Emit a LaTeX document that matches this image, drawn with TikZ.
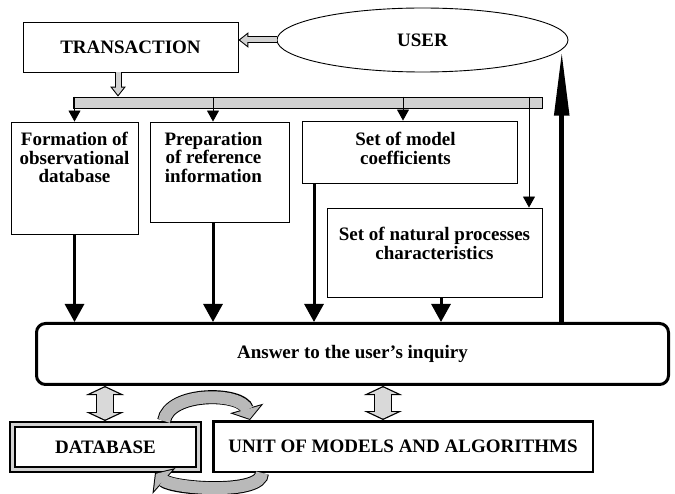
\documentclass[tikz,border=0pt]{standalone}
\usepackage{fontspec}
\setmainfont{Liberation Serif}
\usetikzlibrary{arrows.meta,positioning,shapes.geometric}

\begin{document}
\begin{tikzpicture}[x=1pt,y=1pt,font=\fontsize{19}{18.5}\selectfont\bfseries,
  box/.style={draw,line width=0.9pt,inner sep=0pt},
  lbl/.style={align=center,inner sep=0pt},
  feed/.style={line width=0.8pt,-{Triangle[length=11pt,width=12pt]}},
  main/.style={line width=3pt,-{Triangle[length=18pt,width=19pt]}},
  rise/.style={line width=5.5pt,-{Triangle[length=66pt,width=14pt]}},
  hollow/.style={line width=7pt,-{Triangle[length=10pt,width=15pt]},
    postaction={draw=gray!35,line width=5pt,shorten >=1.7pt,-{Triangle[length=7.3pt,width=11pt]}}},
  twoway/.style={line width=18pt,{Triangle[length=9pt,width=38pt]}-{Triangle[length=9pt,width=38pt]},
    postaction={draw=gray!30,line width=15.6pt,shorten >=1.4pt,shorten <=1.4pt,
      {Triangle[length=6.4pt,width=27pt]}-{Triangle[length=6.4pt,width=27pt]}}},
  turn/.style={line width=14pt,-{Triangle[length=12pt,width=34pt]},
    postaction={draw=gray!55,line width=12pt,shorten >=1.2pt,-{Triangle[length=9.8pt,width=27.7pt]}}}]
\useasboundingbox (0,0) rectangle (675,-494);

% top row
\node[box,minimum width=215,minimum height=50] (trans) at (130.5,-47) {TRANSACTION};
\node[box,ellipse,minimum width=291,minimum height=64] (user) at (422.5,-40) {USER};
\node[box,fill=gray!35,line width=0.8pt,minimum width=469,minimum height=11] (bar) at (307.5,-102.5) {};

% task boxes
\node[box,minimum width=127,minimum height=112] (form) at (74.5,-178) {};
\node[box,minimum width=139,minimum height=100] (prep) at (219.5,-172) {};
\node[box,minimum width=215,minimum height=62] (coef) at (409.5,-152) {};
\node[box,minimum width=215,minimum height=89] (nat) at (434.5,-252.5) {};
\node[lbl,below=10.5pt of form.north] (formtext) {Formation of\\observational\\database};
\node[lbl,below=10.5pt of prep.north,xshift=-6pt] (preptext) {Preparation\\of reference\\information};
\node[lbl,below=11.5pt of coef.north,xshift=-4pt] (coeftext) {Set of model\\coefficients};
\node[lbl,below=19.5pt of nat.north] (nattext) {Set of natural processes\\characteristics};

% answer and lower units
\node[draw,line width=3pt,rounded corners=9pt,minimum width=632,minimum height=61] (ans) at (352.5,-354) {Answer to the user's inquiry};
\node[draw,line width=1.6pt,double=gray!35,double distance=3.5pt,outer sep=3.35pt,
  minimum width=186.3,minimum height=45.3] (db) at (105.5,-447) {DATABASE};
\node[draw,line width=2.5pt,minimum width=379.5,minimum height=50.5] (unit) at (403,-446.5) {UNIT OF MODELS AND ALGORITHMS};

\draw[hollow] (user.west) -- (user.west -| trans.east);
\draw[hollow] (118,0 |- trans.south) -- (118,0 |- bar.north);
\draw[feed] (form.north |- bar.north) -- (form.north);
\draw[feed] (213,0 |- bar.north) -- (213,0 |- prep.north);
\draw[feed] (403,0 |- bar.north) -- (403,0 |- coef.north);
\draw[feed] (529,0 |- bar.north) -- (529,0 |- nat.north);
\draw[main] (form.south) -- (form.south |- ans.north);
\draw[main] (213,0 |- prep.south) -- (213,0 |- ans.north);
\draw[main] (314,0 |- coef.south) -- (314,0 |- ans.north);
\draw[main] (441,0 |- nat.south) -- (441,0 |- ans.north);
\draw[rise] (ans.north -| user.-4) -- (user.-4);
\draw[twoway] (105,0 |- ans.south) -- (105,0 |- db.north);
\draw[twoway] (383,0 |- ans.south) -- (383,0 |- unit.north);
\draw[turn] (164,0 |- db.north) .. controls +(5,30) and +(-8,28) .. (250,0 |- unit.north);
\draw[turn] (262,0 |- unit.south) .. controls +(0,-22) and +(18,-16) .. (155,0 |- db.south);
\end{tikzpicture}
\end{document}
